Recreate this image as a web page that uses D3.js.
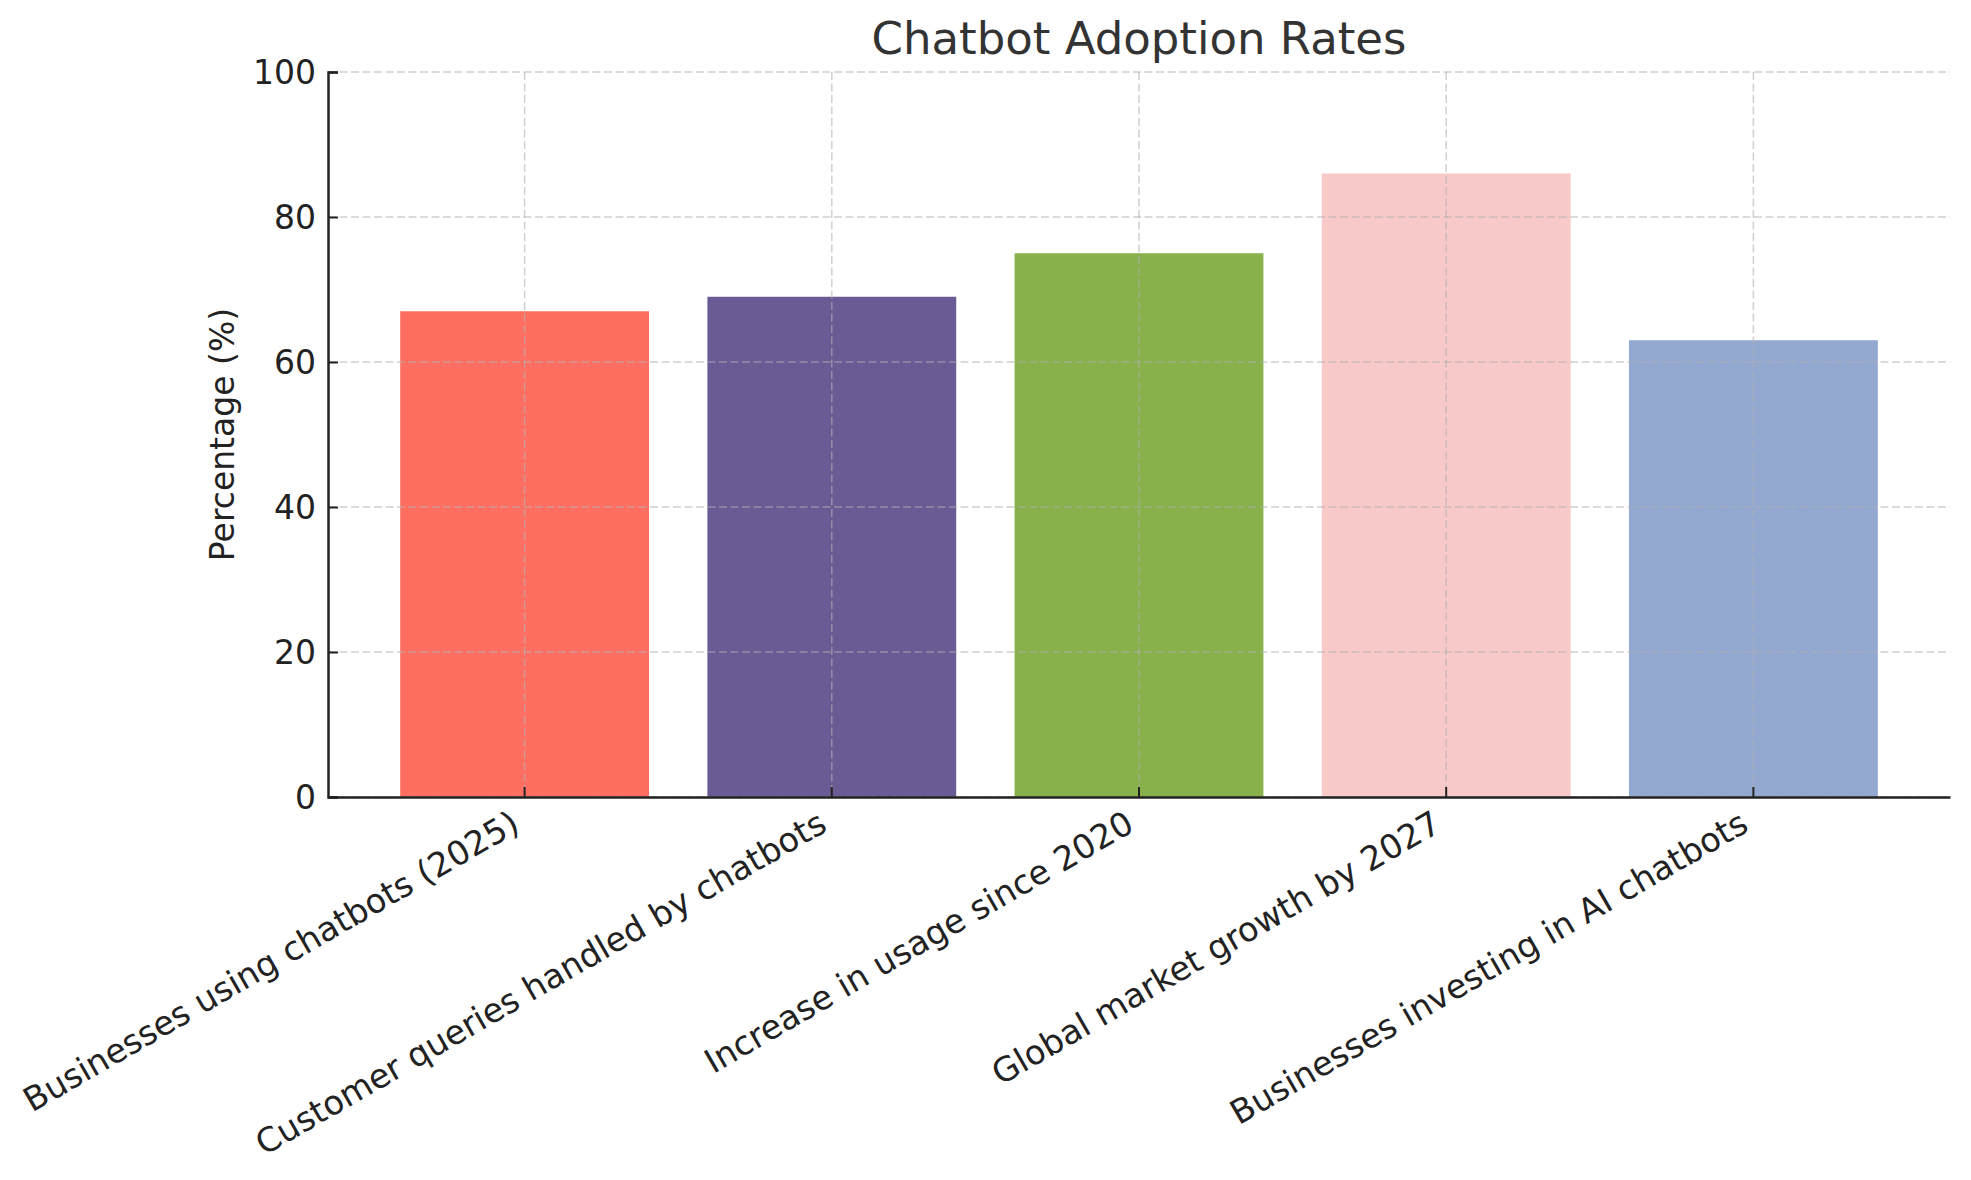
<!DOCTYPE html>
<html>
<head>
<meta charset="utf-8">
<script src="https://cdn.jsdelivr.net/npm/d3@7"></script>
<style>
  body { margin: 0; background: #fff; }
  text { font-family: "DejaVu Sans", sans-serif; }
</style>
</head>
<body>
<div id="chart"></div>
<script>
// chart data
const categories = [
    "Businesses using chatbots (2025)",
    "Customer queries handled by chatbots",
    "Increase in usage since 2020",
    "Global market growth by 2027",
    "Businesses investing in AI chatbots"
];
const values = [67, 69, 75, 86, 63];
const barColors = ["#FF6F61", "#6B5B95", "#88B04B", "#F7CAC9", "#92A8D1"];
const yTicks = [0, 20, 40, 60, 80, 100];

const W = 1971, H = 1180;
const margin = {top: 72, right: 21, bottom: 383, left: 328};
const width = W - margin.left - margin.right;
const height = H - margin.top - margin.bottom;

const svg = d3.select("#chart").append("svg")
    .attr("width", W)
    .attr("height", H);

const g = svg.append("g")
    .attr("transform", `translate(${margin.left},${margin.top})`);

// scales
const x = d3.scaleBand()
    .domain(categories)
    .range([0, width])
    .paddingInner(0.19)
    .paddingOuter(0.235);

const y = d3.scaleLinear()
    .domain([0, 100])
    .range([height, 0]);

// bars
g.selectAll(".bar")
    .data(values)
    .enter()
    .append("rect")
    .attr("class", "bar")
    .attr("x", (d, i) => x(categories[i]))
    .attr("y", d => y(d))
    .attr("width", x.bandwidth())
    .attr("height", d => height - y(d))
    .attr("fill", (d, i) => barColors[i]);

// grid (drawn over bars)
const grid = g.append("g").attr("class", "grid");
grid.selectAll(".hgrid")
    .data(yTicks)
    .enter()
    .append("line")
    .attr("x1", 0).attr("x2", width)
    .attr("y1", d => y(d)).attr("y2", d => y(d))
    .attr("stroke", "#b0b0b0")
    .attr("stroke-opacity", 0.6)
    .attr("stroke-width", 1.5)
    .attr("stroke-dasharray", "8,3.5");
grid.selectAll(".vgrid")
    .data(categories)
    .enter()
    .append("line")
    .attr("x1", d => x(d) + x.bandwidth() / 2)
    .attr("x2", d => x(d) + x.bandwidth() / 2)
    .attr("y1", 0).attr("y2", height)
    .attr("stroke", "#b0b0b0")
    .attr("stroke-opacity", 0.6)
    .attr("stroke-width", 1.5)
    .attr("stroke-dasharray", "8,3.5");

// y axis
const yAxis = g.append("g")
    .attr("class", "y-axis")
    .call(d3.axisLeft(y).tickValues(yTicks).tickSize(-10).tickPadding(12));
yAxis.select(".domain").attr("stroke", "#222").attr("stroke-width", 2.5);
yAxis.selectAll(".tick line").attr("stroke", "#222").attr("stroke-width", 2);
yAxis.selectAll(".tick text")
    .attr("fill", "#222")
    .style("font-size", "33px")
    .attr("dy", "0.35em");

// x axis
const xAxis = g.append("g")
    .attr("class", "x-axis")
    .attr("transform", `translate(0,${height})`)
    .call(d3.axisBottom(x).tickSize(-10).tickSizeOuter(0).tickPadding(0));
xAxis.select(".domain").attr("stroke", "#222").attr("stroke-width", 2.5);
xAxis.selectAll(".tick line").attr("stroke", "#222").attr("stroke-width", 2);
xAxis.selectAll(".tick text")
    .attr("fill", "#222")
    .style("font-size", "33.5px")
    .style("text-anchor", "end")
    .attr("y", 0)
    .attr("dy", 0)
    .attr("transform", "translate(-3,33) rotate(-30)");

// y label
g.append("text")
    .attr("transform", `translate(${234 - margin.left},${height / 2}) rotate(-90)`)
    .attr("text-anchor", "middle")
    .attr("fill", "#222")
    .style("font-size", "33px")
    .text("Percentage (%)");

// title
svg.append("text")
    .attr("x", margin.left + width / 2)
    .attr("y", 54)
    .attr("text-anchor", "middle")
    .attr("fill", "#333")
    .style("font-size", "45px")
    .text("Chatbot Adoption Rates");
</script>
</body>
</html>
